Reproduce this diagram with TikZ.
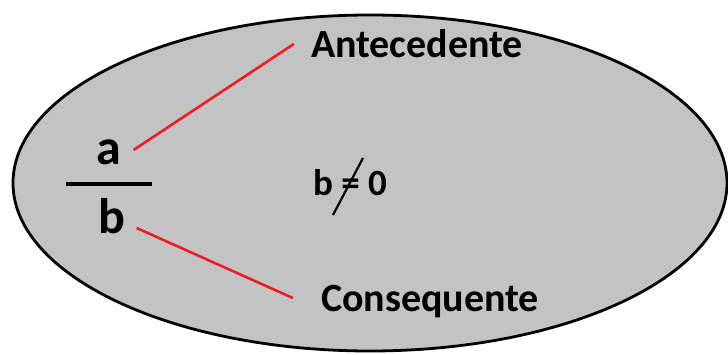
\documentclass[tikz,border=0pt]{standalone}
\usepackage{fontspec}
\setmainfont{Carlito}
\usetikzlibrary{calc,positioning}
\definecolor{Shade}{HTML}{C3C3C3}
\definecolor{Link}{HTML}{EE1C24}
\tikzset{
  term/.style={inner sep=0pt,font=\fontsize{40}{42}\selectfont\bfseries},
  frac/.style={inner sep=0pt,font=\fontsize{50}{52}\selectfont\bfseries},
  link/.style={draw=Link,line width=2.6pt}
}

\begin{document}
\begin{tikzpicture}[x=1pt,y=-1pt]
    \useasboundingbox (0,0) rectangle (728,355);
    \draw[fill=Shade,line width=2.8pt] (370,183) ellipse [x radius=357,y radius=168];
    \node[frac] (num) at (109,152) {a};
    \node[frac] (den) at (112,216) {b};
    \draw[line width=4.5pt] (66,184) -- (152,184);
    \node[term] (ante) at (417,44) {Antecedente};
    \node[term] (cons) at (430,302) {Consequente};
    \node[term,font=\fontsize{37}{40}\selectfont\bfseries] (cond) at (350,183) {b = 0};
    \draw[line width=2.2pt] ($(cond.center)+(-17,32)$) -- ($(cond.center)+(13,-25)$);
    \draw[link] ([shift={(12pt,2pt)}]num.east) -- ([xshift=-17pt]ante.west);
    \draw[link] ([shift={(11pt,-12pt)}]den.east) -- ([shift={(-28pt,4pt)}]cons.west);
  \end{tikzpicture}
\end{document}
